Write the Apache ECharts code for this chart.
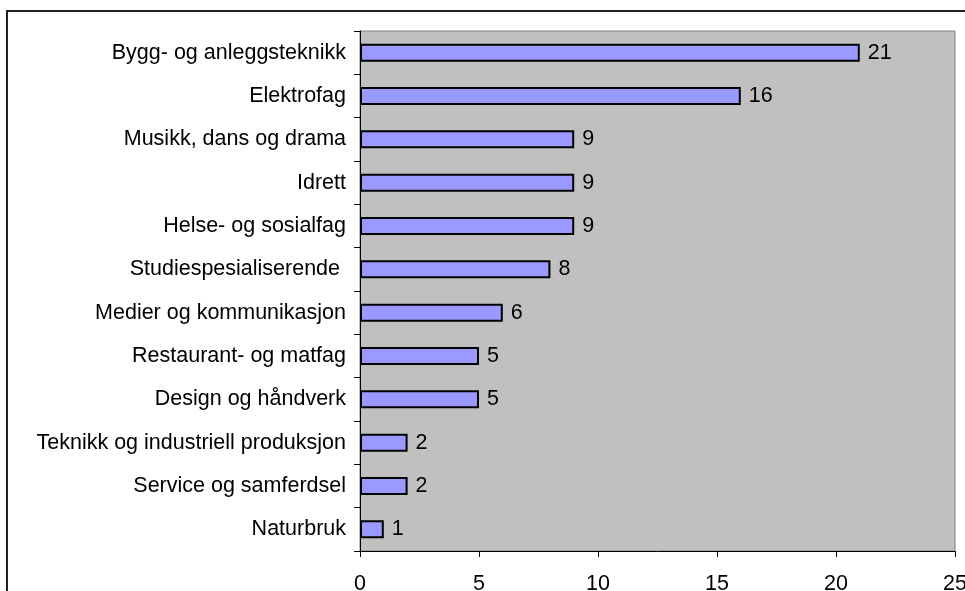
<!DOCTYPE html>
<html>
<head>
<meta charset="utf-8">
<script src="https://cdn.jsdelivr.net/npm/echarts@6/dist/echarts.min.js"></script>
<style>
  html, body { margin: 0; padding: 0; background: #fff; }
  #chart { width: 965px; height: 591px; }
</style>
</head>
<body>
<div id="chart"></div>
<script>
const categories = [
  "Bygg- og anleggsteknikk",
  "Elektrofag",
  "Musikk, dans og drama",
  "Idrett",
  "Helse- og sosialfag",
  "Studiespesialiserende ",
  "Medier og kommunikasjon",
  "Restaurant- og matfag",
  "Design og håndverk",
  "Teknikk og industriell produksjon",
  "Service og samferdsel",
  "Naturbruk",
];
const values = [21, 16, 9, 9, 9, 8, 6, 5, 5, 2, 2, 1];

const chart = echarts.init(document.getElementById("chart"), null, {
  renderer: "canvas",
});

const textStyle = {
  fontFamily: "Liberation Sans, Arial, sans-serif",
  fontSize: 21.5,
  color: "#000",
};

chart.setOption({
  animation: false,
  backgroundColor: "#fff",
  textStyle: textStyle,
  graphic: [
    {
      type: "rect",
      z: -10,
      shape: { x: 7, y: 11, width: 1000, height: 1000 },
      style: { fill: "none", stroke: "#222", lineWidth: 2 },
    },
  ],
  grid: {
    left: 360,
    right: 10,
    top: 31,
    bottom: 40,
    containLabel: false,
    outerBoundsMode: "none",
    show: true,
    backgroundColor: "#c0c0c0",
    borderColor: "#808080",
    borderWidth: 1,
  },
  xAxis: {
    type: "value",
    min: 0,
    max: 25,
    interval: 5,
    splitLine: { show: false },
    axisLine: { show: true, lineStyle: { color: "#000", width: 1 } },
    axisTick: { show: true, length: 6, lineStyle: { color: "#000" } },
    axisLabel: { ...textStyle, margin: 22 },
  },
  yAxis: {
    type: "category",
    inverse: true,
    data: categories,
    axisLine: { show: true, lineStyle: { color: "#000", width: 1 } },
    axisTick: { show: true, length: 6, lineStyle: { color: "#000" } },
    axisLabel: { ...textStyle, margin: 14 },
  },
  series: [
    {
      type: "bar",
      data: values,
      barWidth: 18,
      itemStyle: {
        color: "#9999ff",
        borderColor: "#000",
        borderWidth: 2,
      },
      label: {
        show: true,
        position: "right",
        distance: 8,
        ...textStyle,
      },
    },
  ],
});
</script>
</body>
</html>
